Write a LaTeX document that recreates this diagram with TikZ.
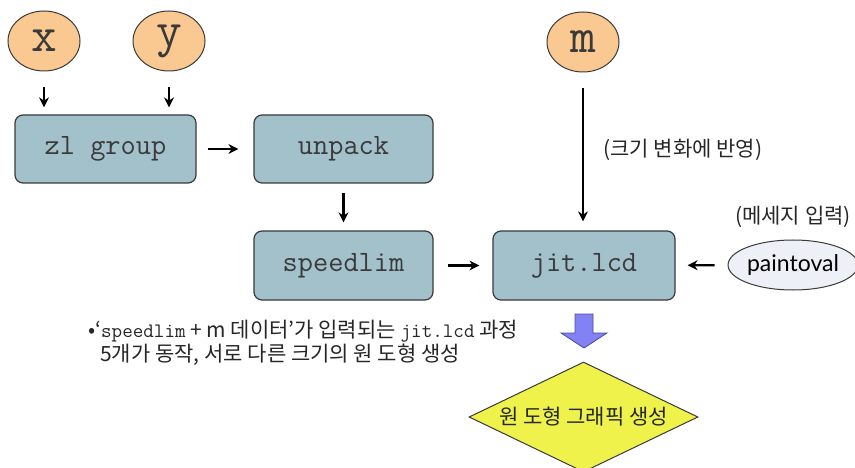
\documentclass[tikz,border=0pt]{standalone}
\usepackage{fontspec}
\newfontfamily\kr{Noto Sans CJK KR}
\newfontfamily\lato{Lato}
\usetikzlibrary{shapes.geometric,arrows.meta}
\definecolor{circfill}{HTML}{F9C991}
\definecolor{boxfill}{HTML}{A2C1CB}
\definecolor{edge}{HTML}{3A3A3A}
\definecolor{ovalfill}{HTML}{EEF0F8}
\definecolor{purp}{HTML}{8282F5}
\definecolor{purpedge}{HTML}{4A4A9A}
\definecolor{yel}{HTML}{EEF24A}
\begin{document}
\begin{tikzpicture}[x=1pt,y=-1pt,
 var/.style={ellipse, draw=edge, line width=1pt, fill=circfill, minimum width=72, minimum height=60, inner sep=0, font=\fontsize{50}{50}\ttfamily, text=edge},
 obj/.style={rectangle, rounded corners=8, draw=edge, line width=1.2pt, fill=boxfill, inner sep=0, font=\fontsize{29.5}{29.5}\ttfamily, text=edge},
 arr/.style={line width=2.2pt, -{Stealth[length=10pt,width=10pt]}},
 lab/.style={font=\kr\fontsize{21}{25}\selectfont, text=black!85}
]
\useasboundingbox (0,0) rectangle (855,468);
\fill[white] (0,0) rectangle (855,468);
\clip (0,0) rectangle (855,468);

\node[var] (x) at (44,41) {x};
\node[var] (y) at (169,41) {y};
\node[var] (m) at (583,42) {m};
\node[obj, minimum width=181, minimum height=68] (zl) at (105.5,149) {zl group};
\node[obj, minimum width=179, minimum height=68] (unpack) at (343.5,149) {unpack};
\node[obj, minimum width=179, minimum height=69] (speed) at (343.5,265.5) {speedlim};
\node[obj, minimum width=182, minimum height=69] (jit) at (584,265.5) {jit.lcd};
\node[ellipse, draw=edge, line width=1pt, fill=ovalfill, minimum width=120, minimum height=50, inner sep=0, font=\lato\fontsize{23}{23}\selectfont] (paint) at (793,265) {paintoval};

\draw[arr, shorten <=16, shorten >=7] (x.south) -- (x.south |- zl.north);
\draw[arr, shorten <=16, shorten >=7] (y.south) -- (y.south |- zl.north);
\draw[arr, shorten <=11, shorten >=15] (zl) -- (unpack);
\draw[arr, shorten <=9, shorten >=8] (unpack) -- (speed);
\draw[arr, shorten <=14, shorten >=13] (speed) -- (jit);
\draw[arr, shorten <=16, shorten >=9] (m.south) -- (m.south |- jit.north);
\draw[arr, shorten <=13, shorten >=12] (paint) -- (jit);

\node[lab, anchor=west] (l1) at (600,150) {(크기 변화에 반영)};
\node[lab] (l2) at (793,217) {(메세지 입력)};
\node[lab, anchor=north west, align=left, inner sep=0] (note) at (88,320) {•‘{\fontsize{20.5}{20.5}\ttfamily speedlim} + m 데이터’가 입력되는 {\fontsize{20.5}{20.5}\ttfamily jit.lcd} 과정\\[-1pt]\hspace*{12pt}5개가 동작, 서로 다른 크기의 원 도형 생성};

\draw[fill=purp, draw=purpedge, line width=0.8pt] (575,314) -- (593,314) -- (593,333) -- (607,333) -- (584,348) -- (561,333) -- (575,333) -- cycle;

\node[diamond, aspect=2.08, draw=edge, line width=1pt, fill=yel, minimum width=229, minimum height=110, inner sep=0, lab] (res) at (583.5,417) {원 도형 그래픽 생성};
\end{tikzpicture}
\end{document}
